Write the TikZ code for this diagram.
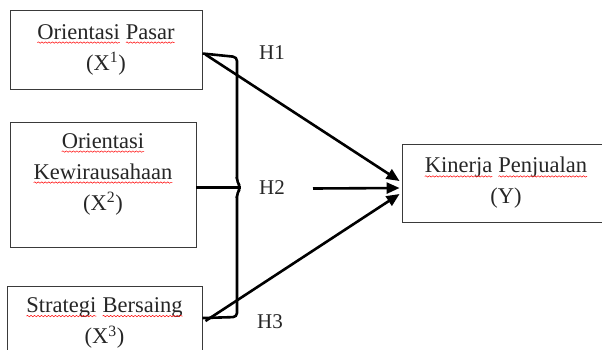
\documentclass[tikz,border=0pt]{standalone}
\usepackage{fontspec}
\setmainfont{Liberation Serif}
\usepackage{xcolor}
\usepackage{tikz}
\usetikzlibrary{positioning,arrows.meta,decorations.pathmorphing}

% red spell-check wave under a word
\newcommand{\spellmark}[1]{\tikz[baseline=(w.base)]{\node[draw=none, inner sep=0pt, outer sep=0pt,
        minimum width=0pt, minimum height=0pt] (w) {#1};
    \draw[red, line width=0.5pt, decorate, decoration={snake, amplitude=0.7pt, segment length=3.5pt}]
    ([yshift=-3.5pt]w.base west) -- ([yshift=-3.5pt]w.base east);}}

\definecolor{txtgray}{HTML}{262626}
\definecolor{boxgray}{HTML}{3A3A3A}

\begin{document}
\begin{tikzpicture}[x=1pt, y=-1pt,
    var/.style = {draw=boxgray, line width=0.9pt, rectangle, align=center,
        text=txtgray, font=\fontsize{22.5}{31}\selectfont},
    hyp/.style = {text=txtgray, font=\fontsize{21}{25}\selectfont},
    arr/.style = {line width=2.6pt, -{Triangle[length=13pt, width=11pt]}},
    brace/.style = {line width=2.6pt, rounded corners=4pt}]
    \useasboundingbox (0,0) rectangle (602,349);

    % variables
    \node[var, minimum width=192, minimum height=79] (b1) at (106,49.5)
        {\spellmark{Orientasi} \spellmark{Pasar}\\(X\textsuperscript{1})};
    \node[var, minimum width=186, minimum height=125] (b2) at (103,184.5) {};
    \node[var, draw=none] (t2) at (103,174)
        {\spellmark{Orientasi}\\\spellmark{Kewirausahaan}\\(X\textsuperscript{2})};
    \node[var, minimum width=195, minimum height=74] (b3) at (104.5,323)
        {\spellmark{Strategi} \spellmark{Bersaing}\\(X\textsuperscript{3})};
    \node[var, minimum width=208, minimum height=78] (y) at (506,183)
        {\spellmark{Kinerja} \spellmark{Penjualan}\\(Y)};

    % brace joining the three variables
    \coordinate (tip) at (241,187.5);
    \coordinate (h2) at (313,188.5);
    \draw[brace] ([yshift=-4pt]b1.east) -- (237,57) -- (237,182) -- (tip)
        -- (237,193) -- (237,317) -- ([yshift=5pt]b3.east);
    \draw[line width=2.6pt] ([yshift=-3pt]b2.east) -- (tip);

    % hypotheses
    \draw[arr] ([shift={(3pt,-5pt)}]b1.east) -- ([shift={(-2pt,2pt)}]y.west);
    \draw[arr] (h2) -- ([shift={(-2pt,-5pt)}]y.west);
    \draw[arr] ([shift={(3pt,2pt)}]b3.east) -- ([shift={(-2pt,-11pt)}]y.west);

    \node[hyp] (h1l) at (272,53) {H1};
    \node[hyp] (h2l) at (272,188) {H2};
    \node[hyp] (h3l) at (270,322) {H3};
\end{tikzpicture}
\end{document}
